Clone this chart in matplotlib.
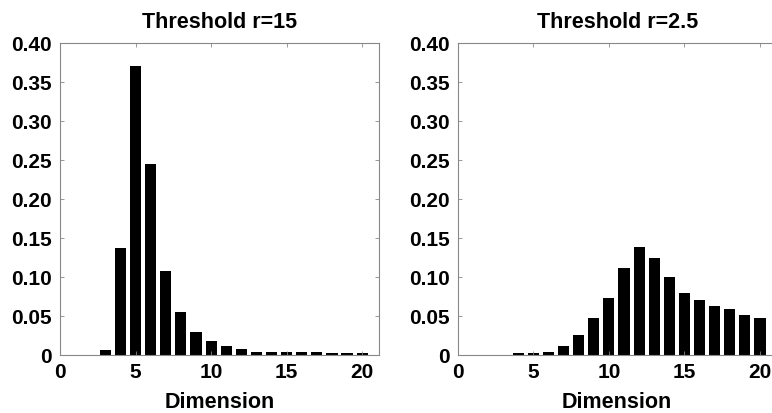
import matplotlib
matplotlib.use("Agg")
from matplotlib import pyplot as plt

# Data
dims = list(range(1, 21))
freq_r15 = [0, 0, 0.006, 0.137, 0.371, 0.245, 0.108, 0.055, 0.029, 0.018,
            0.0115, 0.008, 0.004, 0.004, 0.004, 0.004, 0.004, 0.002, 0.002, 0.002]
freq_r25 = [0, 0, 0, 0.002, 0.002, 0.004, 0.0115, 0.026, 0.047, 0.073,
            0.112, 0.138, 0.124, 0.100, 0.079, 0.071, 0.063, 0.059, 0.051, 0.048]
titles = ["Threshold r=15", "Threshold r=2.5"]
yticks = [0, 0.05, 0.10, 0.15, 0.20, 0.25, 0.30, 0.35, 0.40]
ytick_labels = ["0", "0.05", "0.10", "0.15", "0.20", "0.25", "0.30", "0.35", "0.40"]
xticks = [0, 5, 10, 15, 20]

plt.rcParams['font.family'] = ['Liberation Sans', 'DejaVu Sans']
plt.rcParams['font.weight'] = 'bold'

fig = plt.figure(figsize=(7.72, 4.13), dpi=100)
positions = [[0.0777, 0.1404, 0.413, 0.755], [0.593, 0.1404, 0.413, 0.755]]

for pos, vals, title in zip(positions, [freq_r15, freq_r25], titles):
    ax = fig.add_axes(pos)
    ax.bar(dims, vals, width=0.74, color='black', edgecolor='none')
    ax.set_xlim(0, 21.1)
    ax.set_ylim(0, 0.40)
    ax.set_yticks(yticks)
    ax.set_yticklabels(ytick_labels)
    ax.set_xticks(xticks)
    ax.tick_params(direction='in', length=3, width=0.6, color='#888888',
                   top=True, right=True, labelsize=15, pad=6)
    for s in ax.spines.values():
        s.set_color('#888888')
        s.set_linewidth(0.8)
    # Labels
    ax.set_title(title, fontsize=15.5, fontweight='bold', pad=11)
    ax.set_xlabel('Dimension', fontsize=15.5, fontweight='bold', labelpad=7)
    for lbl in ax.get_xticklabels() + ax.get_yticklabels():
        lbl.set_fontweight('bold')

fig.savefig('out.png', dpi=100)
